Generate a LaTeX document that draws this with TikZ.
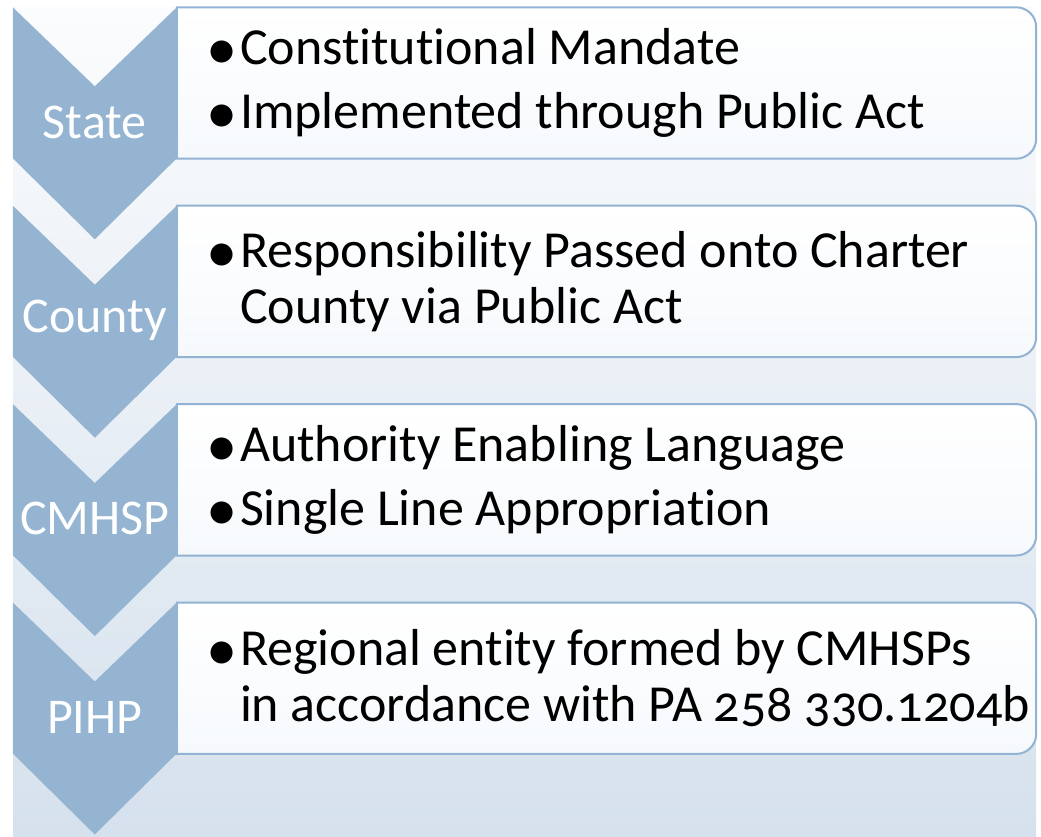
\documentclass[tikz,border=0pt]{standalone}
\usepackage{fontspec}
\setmainfont{Carlito}[Numbers=OldStyle, Ligatures=NoCommon]
\usetikzlibrary{positioning,calc,backgrounds}

\definecolor{chevblue}{RGB}{148,180,210}
\definecolor{edgeblue}{RGB}{146,179,211}
\definecolor{bgtop}{RGB}{251,252,253}
\definecolor{bgbottom}{RGB}{213,225,237}
\definecolor{boxbottom}{RGB}{246,249,252}

\newcommand{\bul}{\makebox[30pt][l]{\hspace*{-4pt}\rlap{\raisebox{-5pt}{\scalebox{1.2}{\textbullet}}}}}
% chevron to the left of a box
\newcommand{\levelchevron}[1]{%
  \fill[chevblue] (#1.north west) -- ++(-82,-79) -- ++(-82,79) -- ++(0,-151)
    -- ++(82,-81) -- ++(82,81) -- cycle;}
% frame of a box, rounded on the right only
\newcommand{\levelframe}[1]{%
  \path[draw=edgeblue, line width=2pt, top color=white, bottom color=boxbottom]
    (#1.north west) -- ([xshift=-20pt]#1.north east)
    arc[start angle=90, end angle=0, radius=20pt] -- ([yshift=20pt]#1.south east)
    arc[start angle=0, end angle=-90, radius=20pt] -- (#1.south west) -- cycle;}

\begin{document}
\begin{tikzpicture}[x=1pt, y=1pt,
    level/.style={minimum width=859pt, minimum height=151pt, inner sep=0pt},
    words/.style={anchor=west, inner sep=0pt, align=left,
      font=\fontsize{52}{56}\selectfont},
    tag/.style={text=white, font=\fontsize{50}{56}\selectfont}]
  \useasboundingbox (0,0) rectangle (1041,836);

  \node[level] (state) at (606.5,753) {};
  \node[level, below=47pt of state] (county) {};
  \node[level, below=47pt of county] (cmhsp) {};
  \node[level, below=47pt of cmhsp] (pihp) {};

  \node[words] (statetext) at ([xshift=33pt]state.west) {\bul Constitutional Mandate\\[8pt]\bul Implemented through Public Act};
  \node[words] (countytext) at ([xshift=33pt]county.west) {\bul Responsibility Passed onto Charter\\\hspace*{30pt}County via Public Act};
  \node[words] (cmhsptext) at ([xshift=33pt]cmhsp.west) {\bul Authority Enabling Language\\[8pt]\bul Single Line Appropriation};
  \node[words] (pihptext) at ([xshift=33pt]pihp.west) {\bul Regional entity formed by CMHSPs\\\hspace*{30pt}in accordance with PA 258 330.1204b};

  \begin{scope}[on background layer]
    \fill[top color=bgtop, bottom color=bgbottom] (13,0) rectangle (1036,828);
    \levelframe{state}
    \levelframe{county}
    \levelframe{cmhsp}
    \levelframe{pihp}
    \levelchevron{state}
    \levelchevron{county}
    \levelchevron{cmhsp}
    \levelchevron{pihp}
  \end{scope}

  \node[tag] (statetag) at ($(state.west)+(-82,-39)$) {State};
  \node[tag] (countytag) at ($(county.west)+(-82,-39)$) {County};
  \node[tag] (cmhsptag) at ($(cmhsp.west)+(-82,-39)$) {CMHSP};
  \node[tag] (pihptag) at ($(pihp.west)+(-82,-39)$) {PIHP};
\end{tikzpicture}
\end{document}
